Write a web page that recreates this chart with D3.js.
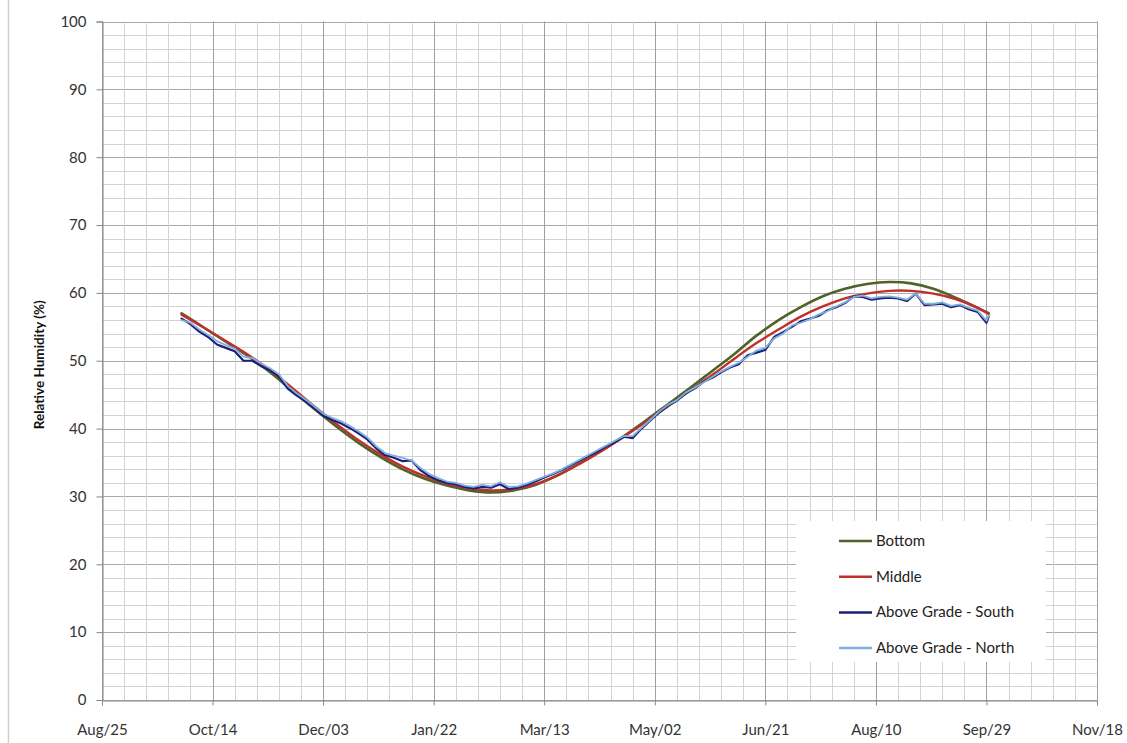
<!DOCTYPE html>
<html>
<head>
<meta charset="utf-8">
<script src="https://cdn.jsdelivr.net/npm/d3@7"></script>
<style>
  html, body { margin: 0; padding: 0; background: #fff; }
  svg { display: block; }
  text { font-family: Lato, "Open Sans", sans-serif; }
</style>
</head>
<body>
<svg id="chart" width="1127" height="743"></svg>
<script>
// ---------------- data ----------------
const axisStart = "2008-08-25";
const axisEnd = "2009-11-18";
const seriesStart = "2008-09-30";
const seriesNames = ["Bottom", "Middle", "Above Grade - South", "Above Grade - North"];
const seriesColors = ["#4f6228", "#c0302b", "#1c1f78", "#7fb0e0"];
const yTickValues = [0, 10, 20, 30, 40, 50, 60, 70, 80, 90, 100];

// smooth sensor curves: one reading every 10 days from seriesStart, last at day 365
const smoothDays = [0,10,20,30,40,50,60,70,80,90,100,110,120,130,140,150,160,170,180,190,
  200,210,220,230,240,250,260,270,280,290,300,310,320,330,340,350,360,365];
const bottom = [57.0,54.9,52.8,50.7,48.3,45.6,42.9,40.3,37.9,35.8,
  34.0,32.6,31.6,30.9,30.6,30.9,31.7,33.1,34.9,36.8,
  38.9,41.2,43.6,46.0,48.5,51.0,53.7,56.0,57.9,59.5,
  60.6,61.3,61.6,61.4,60.6,59.3,57.8,57.0];
const middle = [56.8,54.9,52.9,50.9,48.6,46.0,43.3,40.7,38.3,36.2,
  34.4,33.0,31.9,31.2,30.9,31.1,31.8,33.1,34.8,36.7,
  38.8,41.0,43.3,45.6,47.9,50.3,52.6,54.6,56.5,58.0,
  59.2,59.9,60.3,60.3,59.9,59.1,57.8,56.9];

// noisy above-grade readings: one every 4 days, last at day 365
const noisyDays = [0,4,8,12,16,20,24,28,32,36,40,44,48,52,56,60,64,68,72,76,80,84,88,92,96,
  100,104,108,112,116,120,124,128,132,136,140,144,148,152,156,160,164,168,172,176,180,184,188,192,196,
  200,204,208,212,216,220,224,228,232,236,240,244,248,252,256,260,264,268,272,276,280,284,288,292,296,
  300,304,308,312,316,320,324,328,332,336,340,344,348,352,356,360,364,365];
const south = [56.2,55.4,54.3,53.5,52.4,51.9,51.4,50.0,50.0,49.2,
  48.6,47.7,45.9,44.9,44.0,43.0,41.9,41.3,40.8,40.1,
  39.3,38.4,37.1,36.1,35.7,35.2,35.3,33.9,33.0,32.4,
  32.0,31.8,31.4,31.2,31.4,31.3,31.8,31.1,31.3,31.7,
  32.2,32.8,33.3,33.9,34.6,35.3,36.0,36.6,37.4,38.0,
  38.8,38.6,40.0,41.2,42.4,43.4,44.1,45.2,45.9,46.9,
  47.5,48.3,49.0,49.5,50.8,51.2,51.6,53.5,54.2,55.0,
  55.8,56.2,56.6,57.4,57.9,58.5,59.5,59.4,59.0,59.2,
  59.3,59.2,58.8,59.9,58.2,58.3,58.4,57.9,58.2,57.6,
  57.2,55.6,56.5];
const north = [56.0,55.6,54.6,53.8,52.9,52.3,51.8,50.6,50.4,49.6,
  48.9,48.0,46.3,45.2,44.3,43.3,42.2,41.6,41.1,40.4,
  39.6,38.7,37.4,36.4,36.0,35.7,35.3,34.2,33.3,32.7,
  32.2,32.0,31.6,31.4,31.7,31.5,32.1,31.4,31.5,31.9,
  32.4,32.9,33.4,34.0,34.7,35.4,36.1,36.8,37.5,38.2,
  38.9,38.9,40.1,41.3,42.5,43.5,44.2,45.3,46.0,46.8,
  47.6,48.4,49.1,49.7,50.6,51.5,51.9,53.3,54.0,55.2,
  55.6,56.1,56.8,57.3,58.0,58.6,59.4,59.6,59.2,59.4,
  59.5,59.3,59.0,59.9,58.4,58.4,58.6,58.1,58.3,57.8,
  57.4,55.9,56.6];

// ---------------- chart ----------------
const svg = d3.select("#chart");
const parse = d3.utcParse("%Y-%m-%d");
const t0 = parse(axisStart), t1 = parse(axisEnd), s0 = parse(seriesStart);
const plot = {left: 102, right: 1097, top: 21.5, bottom: 700};

const x = d3.scaleUtc().domain([t0, t1]).range([plot.left, plot.right]);
const y = d3.scaleLinear().domain([0, 100]).range([plot.bottom, plot.top]);

// outer chart border (left edge)
svg.append("line").attr("x1", 8.5).attr("x2", 8.5).attr("y1", 0).attr("y2", 743)
  .attr("stroke", "#d0d0d0").attr("stroke-width", 1.5);

// grid
const totalDays = d3.utcDay.count(t0, t1);
const minorDates = d3.range(0, totalDays + 1, 10).map(d => d3.utcDay.offset(t0, d));
const majorDates = d3.range(0, totalDays + 1, 50).map(d => d3.utcDay.offset(t0, d));
const g = svg.append("g");
g.selectAll("line.hmin").data(d3.range(0, 101, 2)).join("line")
  .attr("x1", plot.left).attr("x2", plot.right)
  .attr("y1", d => Math.round(y(d)) + 0.5).attr("y2", d => Math.round(y(d)) + 0.5)
  .attr("stroke", d => d % 10 === 0 ? "#a8a8a8" : "#d2d2d2").attr("stroke-width", 1);
g.selectAll("line.vmin").data(minorDates).join("line")
  .attr("x1", d => Math.round(x(d)) + 0.5).attr("x2", d => Math.round(x(d)) + 0.5)
  .attr("y1", plot.top).attr("y2", plot.bottom)
  .attr("stroke", (d, i) => i % 5 === 0 ? "#a0a0a0" : "#d2d2d2").attr("stroke-width", 1);

// axes
const yAxis = d3.axisLeft(y).tickValues(yTickValues).tickSize(6).tickPadding(10);
const ya = svg.append("g").attr("transform", `translate(${plot.left + 0.5},0)`).call(yAxis);
const xAxis = d3.axisBottom(x).tickValues(majorDates).tickSize(5).tickPadding(19)
  .tickFormat(d3.utcFormat("%b/%d"));
const xa = svg.append("g").attr("transform", `translate(0,${plot.bottom + 0.5})`).call(xAxis);
[ya, xa].forEach(a => {
  a.select(".domain").attr("stroke", "#868686");
  a.selectAll(".tick line").attr("stroke", "#868686");
  a.selectAll(".tick text").attr("fill", "#333").style("font-size", "15px")
    .style("font-family", "Lato, 'Open Sans', sans-serif");
});

// y title
svg.append("text")
  .attr("transform", `translate(44,${(plot.top + plot.bottom) / 2 + 4}) rotate(-90)`)
  .attr("text-anchor", "middle").attr("fill", "#111")
  .style("font-size", "13.5px").style("font-weight", "bold")
  .text("Relative Humidity (%)");

// series
const mk = (days, vals) => days.map((d, i) => ({date: d3.utcDay.offset(s0, d), v: vals[i]}));
const series = [
  {name: seriesNames[0], color: seriesColors[0], pts: mk(smoothDays, bottom), w: 2.6, curve: d3.curveCatmullRom},
  {name: seriesNames[1], color: seriesColors[1], pts: mk(smoothDays, middle), w: 2.4, curve: d3.curveCatmullRom},
  {name: seriesNames[2], color: seriesColors[2], pts: mk(noisyDays, south), w: 2.2, curve: d3.curveLinear},
  {name: seriesNames[3], color: seriesColors[3], pts: mk(noisyDays, north), w: 1.8, curve: d3.curveLinear}
];
series.forEach(s => {
  const line = d3.line().x(p => x(p.date)).y(p => y(p.v)).curve(s.curve);
  svg.append("path").datum(s.pts).attr("d", line)
    .attr("fill", "none").attr("stroke", s.color).attr("stroke-width", s.w)
    .attr("stroke-linejoin", "round").attr("stroke-linecap", "round");
});

// legend
const lg = svg.append("g");
lg.append("rect").attr("x", 796).attr("y", 521).attr("width", 250).attr("height", 141).attr("fill", "#fff");
series.forEach((s, i) => {
  const yy = 541 + i * 35.7;
  lg.append("line").attr("x1", 839).attr("x2", 872).attr("y1", yy).attr("y2", yy)
    .attr("stroke", s.color).attr("stroke-width", 2.5);
  lg.append("text").attr("x", 876).attr("y", yy + 5).attr("fill", "#222")
    .style("font-size", "15px").text(s.name);
});
</script>
</body>
</html>
